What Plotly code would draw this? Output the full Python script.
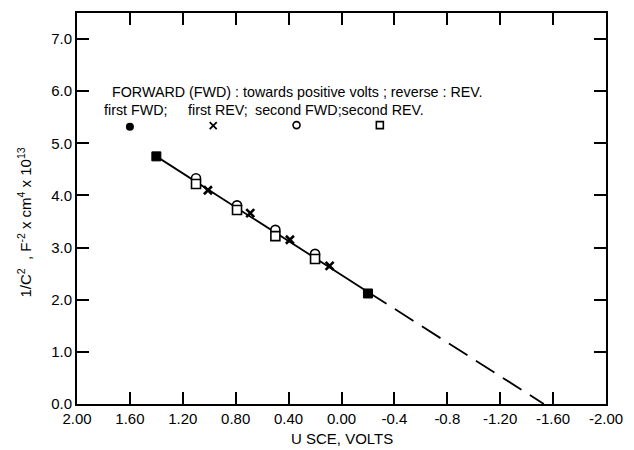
import plotly.graph_objects as go

# ---- data ----
x_ticks = [2.0, 1.6, 1.2, 0.8, 0.4, 0.0, -0.4, -0.8, -1.2, -1.6, -2.0]
x_ticklabels = ["2.00", "1.60", "1.20", "0.80", "0.40", "0.00", "-0.4", "-0.8", "-1.20", "-1.60", "-2.00"]
y_ticks = [0, 1, 2, 3, 4, 5, 6, 7]
y_ticklabels = ["0.0", "1.0", "2.0", "3.0", "4.0", "5.0", "6.0", "7.0"]

# second FWD (open circles)
circ_x = [1.10, 0.79, 0.50, 0.20]
circ_y = [4.33, 3.81, 3.34, 2.88]
# second REV (open squares)
sq_x = [1.10, 0.79, 0.50, 0.20]
sq_y = [4.22, 3.72, 3.22, 2.78]
# first REV (crosses)
x_x = [1.01, 0.69, 0.39, 0.09]
x_y = [4.10, 3.66, 3.15, 2.65]
# overlapping (filled) points
fill_x = [1.40, -0.20]
fill_y = [4.75, 2.12]

# fitted line: solid part and dashed extrapolation
line_x = [1.40, -0.20]
line_y = [4.75, 2.15]
dash_x = [-0.20, -1.53]
dash_y = [2.15, 0.0]

# legend-row markers
leg_dot = (1.60, 5.32)
leg_x = (0.97, 5.34)
leg_circ = (0.34, 5.35)
leg_sq = (-0.29, 5.35)

# legend texts
title_line = "FORWARD (FWD) : towards positive volts ; reverse : REV."
legend_parts = ["first FWD;", "first REV;", "second FWD;second REV."]

FONT = "Liberation Sans"
L, R, T, B = 77, 21, 11, 46
PW, PH = 634 - L - R, 450 - T - B


def px(xp):
    return (xp - L) / PW


def py(yp):
    return 1 - (yp - T) / PH


fig = go.Figure()
fig.add_trace(go.Scatter(x=line_x, y=line_y, mode="lines",
                         line=dict(color="black", width=1.8), hoverinfo="skip"))
fig.add_trace(go.Scatter(x=dash_x, y=dash_y, mode="lines",
                         line=dict(color="black", width=1.8, dash="22px,10px"), hoverinfo="skip"))
fig.add_trace(go.Scatter(x=circ_x, y=circ_y, mode="markers",
                         marker=dict(symbol="circle", size=9, color="white",
                                     line=dict(color="black", width=1.6))))
fig.add_trace(go.Scatter(x=sq_x, y=sq_y, mode="markers",
                         marker=dict(symbol="square", size=9, color="white",
                                     line=dict(color="black", width=1.6))))
fig.add_trace(go.Scatter(x=x_x, y=x_y, mode="markers",
                         marker=dict(symbol="x-thin-open", size=8, color="black",
                                     line=dict(color="black", width=2.6))))
fig.add_trace(go.Scatter(x=fill_x, y=fill_y, mode="markers",
                         marker=dict(symbol="square", size=9, color="black",
                                     line=dict(color="black", width=1))))
# legend-row markers
fig.add_trace(go.Scatter(x=[leg_dot[0]], y=[leg_dot[1]], mode="markers",
                         marker=dict(symbol="circle", size=8, color="black")))
fig.add_trace(go.Scatter(x=[leg_x[0]], y=[leg_x[1]], mode="markers",
                         marker=dict(symbol="x-thin-open", size=7, color="black",
                                     line=dict(color="black", width=1.8))))
fig.add_trace(go.Scatter(x=[leg_circ[0]], y=[leg_circ[1]], mode="markers",
                         marker=dict(symbol="circle-open", size=7, color="black",
                                     line=dict(color="black", width=1.6))))
fig.add_trace(go.Scatter(x=[leg_sq[0]], y=[leg_sq[1]], mode="markers",
                         marker=dict(symbol="square-open", size=7, color="black",
                                     line=dict(color="black", width=1.6))))

axis_common = dict(showgrid=False, zeroline=False, showline=True, linecolor="black",
                   linewidth=2, mirror="ticks", ticks="inside", ticklen=12,
                   tickwidth=1.6, tickcolor="black",
                   tickfont=dict(family=FONT, size=15, color="black"))

txt_font = dict(family=FONT, size=14.3, color="black")
annotations = [
    dict(text=title_line, xref="paper", yref="paper", x=px(110), y=py(90),
         xanchor="left", yanchor="middle", showarrow=False, font=txt_font),
]
for part, xpos in zip(legend_parts, [102, 187, 255]):
    annotations.append(dict(text=part, xref="paper", yref="paper", x=px(xpos), y=py(108),
                            xanchor="left", yanchor="middle", showarrow=False, font=txt_font))
annotations += [
    dict(text="U SCE, VOLTS", xref="paper", yref="paper", x=0.5, y=py(439),
         xanchor="center", yanchor="middle", showarrow=False,
         font=dict(family=FONT, size=15, color="black")),
    dict(text="1/C<sup>2</sup>  , F<sup>-2</sup> x cm<sup>4</sup> x 10<sup>13</sup>",
         xref="paper", yref="paper", x=px(24), y=py(222),
         xanchor="center", yanchor="middle", showarrow=False, textangle=-90,
         font=dict(family=FONT, size=15, color="black")),
]

fig.update_layout(
    width=634, height=450,
    margin=dict(l=L, r=R, t=T, b=B),
    paper_bgcolor="white", plot_bgcolor="white",
    showlegend=False,
    font=dict(family=FONT, color="black"),
    xaxis=dict(range=[2.0, -2.0], tickvals=x_ticks, ticktext=x_ticklabels, **axis_common),
    yaxis=dict(range=[0, 7.5], tickvals=y_ticks, ticktext=y_ticklabels, **axis_common),
    annotations=annotations,
)

fig.write_html("out.html")
